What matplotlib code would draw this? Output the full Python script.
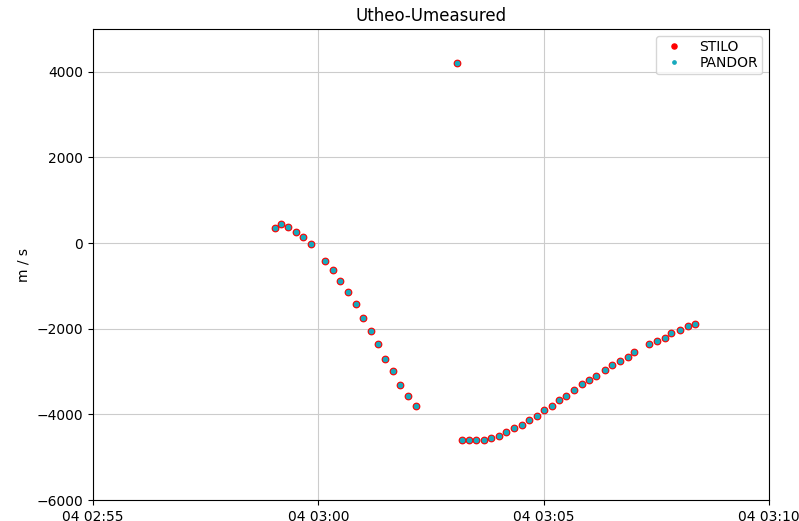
import numpy as np
import pandas as pd
import matplotlib
matplotlib.use("Agg")
import matplotlib.pyplot as plt
import matplotlib.dates as mdates

# seconds after 02:55:00 and residual values (m/s)
seconds = [242, 250, 260, 270, 279, 290, 309, 320, 329, 340, 350, 360, 370, 380,
           389, 400, 409, 420, 430, 484,
           491, 500, 510, 520, 530, 540, 550, 560, 571, 580, 591, 601, 611, 621,
           630, 640, 651, 660, 670, 681, 691, 701, 712, 720, 740, 751, 761, 770,
           781, 792, 801]
values = [343, 443, 373, 264, 140, -16, -413, -623, -880, -1144, -1431, -1743,
          -2054, -2364, -2707, -2995, -3307, -3564, -3804, 4201,
          -4610, -4610, -4610, -4610, -4551, -4498, -4418, -4318, -4241, -4138,
          -4031, -3905, -3797, -3664, -3564, -3431, -3298, -3198, -3097, -2964,
          -2855, -2754, -2654, -2544, -2364, -2287, -2210, -2108, -2024, -1944,
          -1891]

start = pd.Timestamp("2020-01-04 02:55:00")
t = [start + pd.Timedelta(seconds=s) for s in seconds]

fig = plt.figure(figsize=(7.99, 5.21), dpi=100)
ax = fig.add_axes([0.1164, 0.0403, 0.8461, 0.904])

ax.plot(t, values, 'o', color='red', markersize=4.6, label='STILO')
ax.plot(t, values, 'o', color='#17a9bd', markersize=3.0, label='PANDOR')

ax.set_xlim(start, start + pd.Timedelta(minutes=15))
ax.set_ylim(-6000, 5000)
ax.set_yticks([-6000, -4000, -2000, 0, 2000, 4000])
ax.xaxis.set_major_locator(mdates.MinuteLocator(byminute=[0, 5, 10, 15, 20, 25, 30, 35, 40, 45, 50, 55]))
ax.xaxis.set_major_formatter(mdates.DateFormatter('%d %H:%M'))
ax.grid(True, color='#cccccc')
ax.set_title('Utheo-Umeasured')
ax.set_ylabel('m / s')
ax.legend(loc='upper right', labelspacing=0.15, borderpad=0.3, markerscale=0.8)

fig.savefig('out.png', dpi=100)
